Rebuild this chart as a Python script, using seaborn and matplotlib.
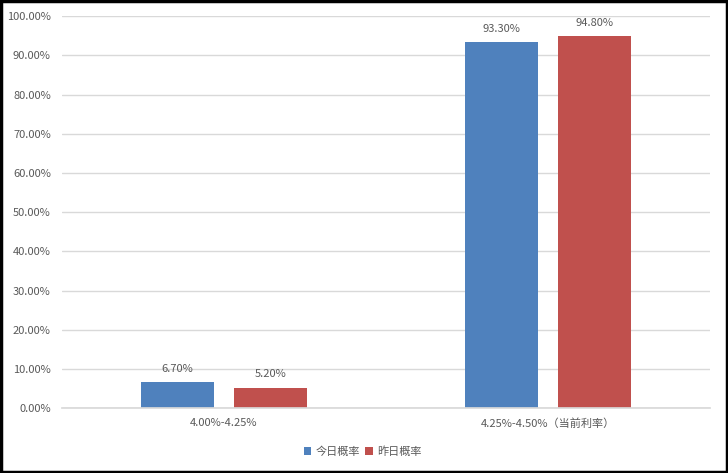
import pandas as pd
import matplotlib.pyplot as plt
import seaborn as sns
from matplotlib.ticker import FuncFormatter, MultipleLocator
from matplotlib.patches import Rectangle

# data
categories = ["4.00%-4.25%", "4.25%-4.50%（当前利率）"]
series = ["今日概率", "昨日概率"]
today = [6.70, 93.30]
yesterday = [5.20, 94.80]

df = pd.DataFrame({
    "category": categories * 2,
    "series": [series[0]] * 2 + [series[1]] * 2,
    "value": today + yesterday,
})

sns.set_theme(style="white")
plt.rcParams['font.family'] = ['Noto Sans CJK SC', 'DejaVu Sans']

fig = plt.figure(figsize=(7.28, 4.73), dpi=100)
ax = fig.add_axes([0.085, 0.137, 0.89, 0.829])

sns.barplot(data=df, x="category", y="value", hue="series",
            palette=["#4F81BD", "#C0504D"], width=0.574, gap=0.215,
            saturation=1, linewidth=0, ax=ax, legend=True)

text_col = "#595959"
for cont in ax.containers:
    ax.bar_label(cont, labels=[f"{v:.2f}%" for v in cont.datavalues],
                 padding=6, fontsize=8, color=text_col)

ax.set_ylim(0, 100)
ax.set_xlim(-0.5, 1.5)
ax.yaxis.set_major_locator(MultipleLocator(10))
ax.yaxis.set_major_formatter(FuncFormatter(lambda v, p: f"{v:.2f}%"))
ax.grid(axis="y", color="#D9D9D9", linewidth=1)
ax.set_axisbelow(True)
for s in ["top", "right", "left"]:
    ax.spines[s].set_visible(False)
ax.spines["bottom"].set_color("#D9D9D9")
ax.tick_params(axis="both", length=0, labelsize=8, labelcolor=text_col)
ax.tick_params(axis="x", pad=7)
ax.tick_params(axis="y", pad=8)
ax.set_xlabel("")
ax.set_ylabel("")

ax.legend(loc="center", bbox_to_anchor=(0.498, 0.046), bbox_transform=fig.transFigure,
          ncol=2, frameon=False, fontsize=8, handlelength=0.7, handleheight=0.7,
          handletextpad=0.4, columnspacing=0.4, labelcolor=text_col)

fig.patches.append(Rectangle((0.002, 0.003), 0.996, 0.994, transform=fig.transFigure,
                             fill=False, edgecolor="black", linewidth=2.5))

fig.savefig("out.png", dpi=100)
